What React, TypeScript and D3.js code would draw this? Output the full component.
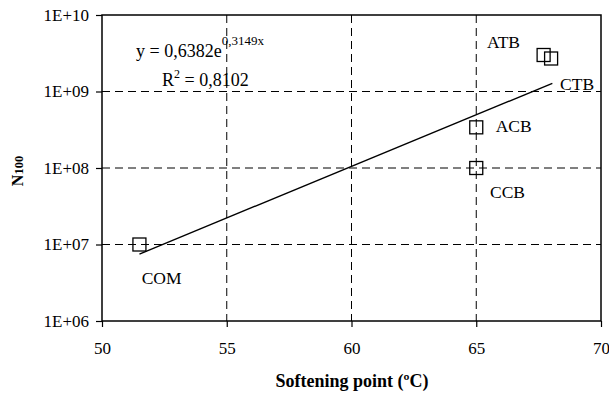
import React, { useEffect, useRef } from "react";
import * as d3 from "d3";

// measured points
const labels = ["COM", "ATB", "ATB2", "ACB", "CCB"];
const softening = [51.5, 67.7, 68.0, 65, 65];
const n100 = [1e7, 3.0e9, 2.7e9, 3.4e8, 1e8];

// exponential trendline (straight on log axis), endpoints
const trendX = [51.5, 68.05];
const trendY = [7.5e6, 1.28e9];

const xTicks = [50, 55, 60, 65, 70];
const yTicks = [1e6, 1e7, 1e8, 1e9, 1e10];
const yTickLabels = ["1E+06", "1E+07", "1E+08", "1E+09", "1E+10"];

// point labels, left edge / vertical centre in data units
const pointLabels = [
  { text: "ATB", x: 65.43, y: 4.4e9 },
  { text: "CTB", x: 68.36, y: 1.26e9 },
  { text: "ACB", x: 65.78, y: 3.47e8 },
  { text: "CCB", x: 65.55, y: 4.8e7 },
  { text: "COM", x: 51.59, y: 3.57e6 },
];

const App = () => {
  const svgRef = useRef(null);
  const width = 609;
  const height = 398;
  const margin = { left: 102, right: 8, top: 15, bottom: 77 };

  useEffect(() => {
    const svgEl = d3.select(svgRef.current);
    svgEl.selectAll("*").remove();
    const font = "'Liberation Serif', 'Times New Roman', serif";

    const x = d3.scaleLinear().domain([50, 70]).range([margin.left, width - margin.right]);
    const y = d3.scaleLog().domain([1e6, 1e10]).range([height - margin.bottom, margin.top]);

    const svg = svgEl.append("g");

    // grid
    svg.selectAll(".hgrid")
      .data(yTicks.slice(1, 4))
      .enter()
      .append("line")
      .attr("x1", x(50)).attr("x2", x(70))
      .attr("y1", (d) => y(d)).attr("y2", (d) => y(d))
      .attr("stroke", "#000").attr("stroke-width", 1)
      .attr("stroke-dasharray", "8,5");
    svg.selectAll(".vgrid")
      .data(xTicks.slice(1, 4))
      .enter()
      .append("line")
      .attr("y1", y(1e10)).attr("y2", y(1e6))
      .attr("x1", (d) => x(d)).attr("x2", (d) => x(d))
      .attr("stroke", "#000").attr("stroke-width", 1)
      .attr("stroke-dasharray", "8,5");

    // frame
    svg.append("rect")
      .attr("x", x(50)).attr("y", y(1e10))
      .attr("width", x(70) - x(50)).attr("height", y(1e6) - y(1e10))
      .attr("fill", "none").attr("stroke", "#000").attr("stroke-width", 1.5);

    // axes
    const xAxis = d3.axisBottom(x).tickValues(xTicks).tickSize(6).tickPadding(13);
    const xg = svg.append("g").attr("transform", `translate(0, ${y(1e6)})`).call(xAxis);
    const yAxis = d3.axisLeft(y).tickValues(yTicks)
      .tickFormat((d, i) => yTickLabels[i]).tickSize(6).tickPadding(7);
    const yg = svg.append("g").attr("transform", `translate(${x(50)}, 0)`).call(yAxis);
    [xg, yg].forEach((g) => {
      g.select(".domain").remove();
      g.selectAll("line").attr("stroke", "#000").attr("stroke-width", 1.2);
      g.selectAll("text").attr("font-family", font).attr("font-size", 17).attr("fill", "#000");
    });
    xg.selectAll("text").attr("dy", "0.85em");

    // trendline
    const line = d3.line().x((d) => x(d[0])).y((d) => y(d[1]));
    svg.append("path")
      .datum(trendX.map((v, i) => [v, trendY[i]]))
      .attr("d", line)
      .attr("fill", "none").attr("stroke", "#000").attr("stroke-width", 1.4);

    // points
    const s = 13;
    svg.selectAll(".pt")
      .data(labels)
      .enter()
      .append("rect")
      .attr("x", (d, i) => x(softening[i]) - s / 2)
      .attr("y", (d, i) => y(n100[i]) - s / 2)
      .attr("width", s).attr("height", s)
      .attr("fill", "none").attr("stroke", "#000").attr("stroke-width", 1.3);

    // point labels
    svg.selectAll(".pl")
      .data(pointLabels)
      .enter()
      .append("text")
      .attr("x", (d) => x(d.x)).attr("y", (d) => y(d.y))
      .attr("dy", "0.33em")
      .attr("font-family", font).attr("font-size", 17.5)
      .text((d) => d.text);

    // equation
    const eq = svg.append("text")
      .attr("x", 136).attr("y", 57)
      .attr("font-family", font).attr("font-size", 18);
    eq.append("tspan").text("y = 0,6382e");
    eq.append("tspan").attr("dy", -12).attr("font-size", 13).text("0,3149x");
    const r2 = svg.append("text")
      .attr("x", 162).attr("y", 86)
      .attr("font-family", font).attr("font-size", 18);
    r2.append("tspan").text("R");
    r2.append("tspan").attr("dy", -8).attr("font-size", 12).text("2");
    r2.append("tspan").attr("dy", 8).text(" = 0,8102");

    // axis titles
    svg.append("text")
      .attr("x", 352).attr("y", 387)
      .attr("text-anchor", "middle")
      .attr("font-family", font).attr("font-size", 18).attr("font-weight", "bold")
      .text("Softening point (ºC)");
    const yt = svg.append("text")
      .attr("transform", `translate(23, 171) rotate(-90)`)
      .attr("text-anchor", "middle")
      .attr("font-family", font).attr("font-size", 16).attr("font-weight", "bold");
    yt.append("tspan").text("N");
    yt.append("tspan").attr("font-size", 12.5).text("100");
  }, []);

  return (
    <svg
      ref={svgRef}
      width={width}
      height={height}
      style={{ position: "absolute", left: 0, top: 0, background: "#fff" }}
    />
  );
};

export default App;
